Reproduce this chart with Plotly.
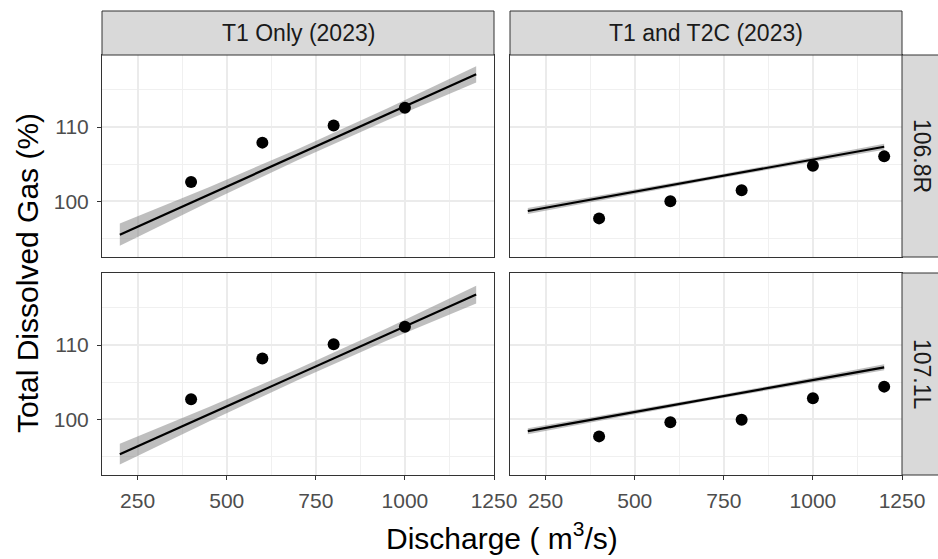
import plotly.graph_objects as go

W, H = 938, 559

# ---------------- data ----------------
discharge_t1 = [400, 600, 800, 1000]
discharge_t2c = [400, 600, 800, 1000, 1200]

tdg_t1_1068R = [102.6, 107.9, 110.2, 112.6]
tdg_t2c_1068R = [97.7, 100.0, 101.5, 104.8, 106.05]
tdg_t1_1071L = [102.7, 108.2, 110.1, 112.45]
tdg_t2c_1071L = [97.7, 99.6, 99.95, 102.85, 104.4]

fit_x = [200, 450, 700, 950, 1200]
fit_t1_1068R = [95.5, 100.9, 106.3, 111.7, 117.1]
lo_t1_1068R = [94.0, 99.9, 105.55, 110.9, 116.0]
hi_t1_1068R = [97.0, 101.9, 107.05, 112.5, 118.2]

fit_t2c_1068R = [98.7, 100.86, 103.03, 105.19, 107.35]
lo_t2c_1068R = [98.3, 100.56, 102.78, 104.89, 106.95]
hi_t2c_1068R = [99.1, 101.16, 103.28, 105.49, 107.75]

fit_t1_1071L = [95.3, 100.68, 106.05, 111.43, 116.8]
lo_t1_1071L = [93.9, 99.7, 105.3, 110.6, 115.6]
hi_t1_1071L = [96.7, 101.65, 106.8, 112.25, 118.0]

fit_t2c_1071L = [98.4, 100.55, 102.7, 104.85, 107.0]
lo_t2c_1071L = [98.0, 100.25, 102.45, 104.55, 106.6]
hi_t2c_1071L = [98.8, 100.85, 102.95, 105.15, 107.4]

col_labels = ["T1 Only (2023)", "T1 and T2C (2023)"]
row_labels = ["106.8R", "107.1L"]
x_ticks = [250, 500, 750, 1000, 1250]
x_minor = [375, 625, 875, 1125]
y_ticks = [100, 110]
y_minor = [95, 105, 115]

# ---------------- layout helpers ----------------
def px_x(p):
    return p / W

def px_y(p):
    return 1 - p / H

col_dom = [(102, 494), (510, 902)]
row_dom = [(55, 257), (273, 475)]

FONT = "Liberation Sans, Arial, sans-serif"
fig = go.Figure()

panels = [
    (0, 0, discharge_t1, tdg_t1_1068R, fit_t1_1068R, lo_t1_1068R, hi_t1_1068R),
    (0, 1, discharge_t2c, tdg_t2c_1068R, fit_t2c_1068R, lo_t2c_1068R, hi_t2c_1068R),
    (1, 0, discharge_t1, tdg_t1_1071L, fit_t1_1071L, lo_t1_1071L, hi_t1_1071L),
    (1, 1, discharge_t2c, tdg_t2c_1071L, fit_t2c_1071L, lo_t2c_1071L, hi_t2c_1071L),
]

for i, (r, c, xs, ys, fit, lo, hi) in enumerate(panels):
    n = i + 1
    xa = "x" if n == 1 else f"x{n}"
    ya = "y" if n == 1 else f"y{n}"
    fig.add_trace(go.Scatter(x=fit_x, y=lo, xaxis=xa, yaxis=ya, mode="lines",
                             line=dict(width=0, color="rgba(0,0,0,0)"),
                             showlegend=False, hoverinfo="skip"))
    fig.add_trace(go.Scatter(x=fit_x, y=hi, xaxis=xa, yaxis=ya, mode="lines",
                             line=dict(width=0, color="rgba(0,0,0,0)"),
                             fill="tonexty", fillcolor="rgba(125,125,125,0.5)",
                             showlegend=False, hoverinfo="skip"))
    fig.add_trace(go.Scatter(x=fit_x, y=fit, xaxis=xa, yaxis=ya, mode="lines",
                             line=dict(width=2.2, color="black"), showlegend=False))
    fig.add_trace(go.Scatter(x=xs, y=ys, xaxis=xa, yaxis=ya, mode="markers",
                             marker=dict(size=12, color="black"), showlegend=False))

    xkey = "xaxis" if n == 1 else f"xaxis{n}"
    ykey = "yaxis" if n == 1 else f"yaxis{n}"
    bottom = r == 1
    left = c == 0
    fig.layout[xkey] = dict(
        domain=[px_x(col_dom[c][0]), px_x(col_dom[c][1])],
        anchor=ya, range=[150, 1250],
        tickvals=x_ticks, ticktext=[str(v) for v in x_ticks],
        showticklabels=bottom, ticks="outside" if bottom else "",
        ticklen=4, tickwidth=1, tickcolor="#333333", ticklabelstandoff=3,
        tickfont=dict(family=FONT, size=21, color="#4d4d4d"),
        showgrid=True, gridcolor="#ebebeb", gridwidth=1.5,
        minor=dict(tickvals=x_minor, showgrid=True, gridcolor="#f0f0f0", gridwidth=1, ticks=""),
        showline=True, mirror=True, linecolor="#333333", linewidth=1,
        zeroline=False, fixedrange=True,
    )
    fig.layout[ykey] = dict(
        domain=[px_y(row_dom[r][1]), px_y(row_dom[r][0])],
        anchor=xa, range=[92.5, 119.7],
        tickvals=y_ticks, ticktext=[str(v) for v in y_ticks],
        showticklabels=left, ticks="outside" if left else "",
        ticklen=4, tickwidth=1, tickcolor="#333333", ticklabelstandoff=4,
        tickfont=dict(family=FONT, size=21, color="#4d4d4d"),
        showgrid=True, gridcolor="#ebebeb", gridwidth=1.5,
        minor=dict(tickvals=y_minor, showgrid=True, gridcolor="#f0f0f0", gridwidth=1, ticks=""),
        showline=True, mirror=True, linecolor="#333333", linewidth=1,
        zeroline=False, fixedrange=True,
    )

shapes = []
annotations = []
# top strips
for c, lab in enumerate(col_labels):
    x0, x1 = col_dom[c]
    shapes.append(dict(type="rect", xref="paper", yref="paper",
                       x0=px_x(x0), x1=px_x(x1), y0=px_y(55), y1=px_y(11),
                       fillcolor="#d9d9d9", line=dict(color="#333333", width=1)))
    annotations.append(dict(text=lab, xref="paper", yref="paper",
                            x=px_x((x0 + x1) / 2), y=px_y(33), showarrow=False,
                            xanchor="center", yanchor="middle",
                            font=dict(family=FONT, size=23, color="#1a1a1a")))
# right strips
for r, lab in enumerate(row_labels):
    y0, y1 = row_dom[r]
    shapes.append(dict(type="rect", xref="paper", yref="paper",
                       x0=px_x(902), x1=px_x(950), y0=px_y(y1), y1=px_y(y0),
                       fillcolor="#d9d9d9", line=dict(color="#333333", width=1)))
    annotations.append(dict(text=lab, xref="paper", yref="paper",
                            x=px_x(922), y=px_y((y0 + y1) / 2), showarrow=False,
                            xanchor="center", yanchor="middle", textangle=90,
                            font=dict(family=FONT, size=23, color="#1a1a1a")))

annotations.append(dict(text="Total Dissolved Gas (%)", xref="paper", yref="paper",
                        x=px_x(27), y=px_y(273), showarrow=False, textangle=-90,
                        xanchor="center", yanchor="middle",
                        font=dict(family=FONT, size=30, color="black")))
annotations.append(dict(text="Discharge ( m<sup>3</sup>/s)", xref="paper", yref="paper",
                        x=px_x(502), y=px_y(536), showarrow=False,
                        xanchor="center", yanchor="middle",
                        font=dict(family=FONT, size=30, color="black")))

fig.update_layout(width=W, height=H, autosize=False,
                  margin=dict(l=0, r=0, t=0, b=0, autoexpand=False),
                  paper_bgcolor="white", plot_bgcolor="white",
                  shapes=shapes, annotations=annotations, showlegend=False)

post = (
    "document.documentElement.style.margin='0';"
    "document.documentElement.style.overflow='hidden';"
    "document.body.style.margin='0';"
    "document.body.style.padding='0';"
    "document.body.style.overflow='hidden';"
    "var gd=document.getElementById('{plot_id}');"
    "gd.style.width='" + str(W) + "px';gd.style.height='" + str(H) + "px';"
    "Plotly.relayout(gd,{autosize:false,width:" + str(W) + ",height:" + str(H) + "});"
)

fig.write_html("out.html", post_script=post,
               config={"responsive": False, "displayModeBar": False})
